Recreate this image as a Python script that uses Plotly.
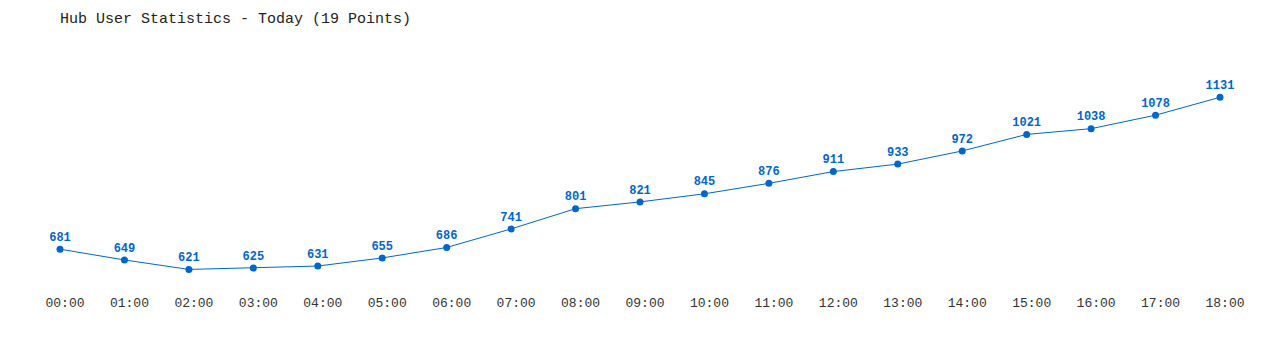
import plotly.graph_objects as go

hours = ["00:00", "01:00", "02:00", "03:00", "04:00", "05:00", "06:00", "07:00", "08:00",
         "09:00", "10:00", "11:00", "12:00", "13:00", "14:00", "15:00", "16:00", "17:00", "18:00"]
users = [681, 649, 621, 625, 631, 655, 686, 741, 801, 821, 845, 876, 911, 933, 972, 1021, 1038, 1078, 1131]

x = list(range(len(hours)))
blue = "#0066cc"
font_family = "Liberation Mono, Courier New, monospace"

fig = go.Figure(go.Scatter(
    x=x, y=users, mode="lines+markers+text",
    text=[str(v) for v in users], textposition="top center",
    textfont=dict(family=font_family, size=12, color=blue, weight="bold"),
    line=dict(color=blue, width=1),
    marker=dict(color=blue, size=7),
    cliponaxis=False, hoverinfo="skip",
))

fig.update_layout(
    width=1280, height=350,
    margin=dict(l=60, r=60, t=74, b=60),
    paper_bgcolor="white", plot_bgcolor="white",
    showlegend=False,
    title=dict(text="Hub User Statistics - Today (19 Points)", x=60/1280, xanchor="left",
               y=1 - 18/350, yanchor="middle",
               font=dict(family=font_family, size=15, color="#222")),
    xaxis=dict(range=[0, 18], tickmode="array", tickvals=x, ticktext=hours,
               showgrid=False, zeroline=False, showline=False, ticks="",
               ticklabelshift=5, ticklabelstandoff=3,
               tickfont=dict(family=font_family, size=13, color="#333")),
    yaxis=dict(range=[560, 1200], visible=False, showgrid=False, zeroline=False),
)

fig.write_html("out.html")
